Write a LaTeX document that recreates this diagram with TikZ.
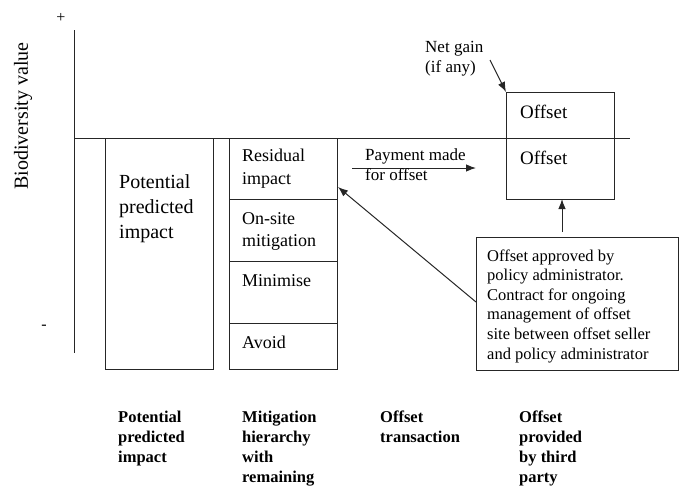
\documentclass[tikz,border=0pt]{standalone}
\usepackage{fontspec}
\setmainfont{Liberation Serif}
\usetikzlibrary{arrows.meta}
\begin{document}
\begin{tikzpicture}[x=1pt,y=-1pt,
  ln/.style={line width=1pt, draw=black!85},
  boxr/.style={ln},
  arr/.style={ln,-{Latex[length=10pt,width=7.5pt]}},
  txt/.style={inner sep=0pt, anchor=base west, align=left},
  lab/.style={txt, font=\fontsize{16.5}{20}\selectfont\bfseries},
]
\useasboundingbox (0,0) rectangle (681,488);
% axis
\coordinate (axtop) at (74,30);
\coordinate (axbot) at (74,353);
\draw[ln] (axtop) -- (axbot);
\coordinate (hl) at (74,138);
\coordinate (hr) at (630,138);
\draw[ln] (hl) -- (hr);
\node[inner sep=0pt, font=\fontsize{16}{16}\selectfont] (plus) at (61,18) {+};
\node[inner sep=0pt, font=\fontsize{16}{16}\selectfont] (minus) at (44,327) {-};
\node[inner sep=0pt, rotate=90, font=\fontsize{20}{20}\selectfont] (yl) at (23,116) {Biodiversity value};
% potential box
\draw[boxr] (105,138) rectangle (213,369);
\node[txt, font=\fontsize{20}{25}\selectfont] (pot) at (119,238) {Potential\\predicted\\impact};
% mitigation column
\draw[boxr] (229,138) rectangle (337,369);
\draw[ln] (229,199) -- (337,199);
\draw[ln] (229,261) -- (337,261);
\draw[ln] (229,323) -- (337,323);
\node[txt, font=\fontsize{18}{23}\selectfont] (res) at (242,184) {Residual\\impact};
\coordinate (resr) at (338,187);
\node[txt, font=\fontsize{18}{22}\selectfont] (ons) at (242,246) {On-site\\mitigation};
\node[txt, font=\fontsize{18}{22}\selectfont] (min) at (242,286) {Minimise};
\node[txt, font=\fontsize{18}{22}\selectfont] (avo) at (242,348) {Avoid};
% payment
\coordinate (pa) at (352,168);
\coordinate (pb) at (476,168);
\draw[arr] (pa) -- (pb);
\node[txt, font=\fontsize{17}{20}\selectfont] (pay) at (365,180) {Payment made\\for offset};
% offset box
\draw[boxr] (506,92) rectangle (614,199);
\coordinate (offtopleft) at (506,92);
\coordinate (offbot) at (562,199);
\node[txt, font=\fontsize{19}{19}\selectfont] (off1) at (520,118) {Offset};
\node[txt, font=\fontsize{19}{19}\selectfont] (off2) at (520,164) {Offset};
% net gain
\node[txt, font=\fontsize{17}{20}\selectfont] (net) at (425,72) {Net gain\\(if any)};
\coordinate (netend) at (490,60);
\draw[arr] (netend) -- (offtopleft);
% approval box
\node[draw=black!85, line width=1pt, minimum width=202pt, minimum height=133pt, inner sep=0pt] (appr) at (577,303.5) {};
\node[txt, font=\fontsize{16.5}{19.6}\selectfont] (apprt) at (487,359) {Offset approved by\\policy administrator.\\Contract for ongoing\\management of offset\\site between offset seller\\and policy administrator};
\coordinate (appup) at (562,232);
\draw[arr] (appup) -- (offbot);
\coordinate (appl) at (476,302);
\draw[arr] (appl) -- (resr);
% bottom labels
\node[lab] (l1) at (118,462) {Potential\\predicted\\impact};
\node[lab] (l2) at (242,482) {Mitigation\\hierarchy\\with\\remaining};
\node[lab] (l3) at (380,442) {Offset\\transaction};
\node[lab] (l4) at (519,482) {Offset\\provided\\by third\\party};
\end{tikzpicture}
\end{document}
